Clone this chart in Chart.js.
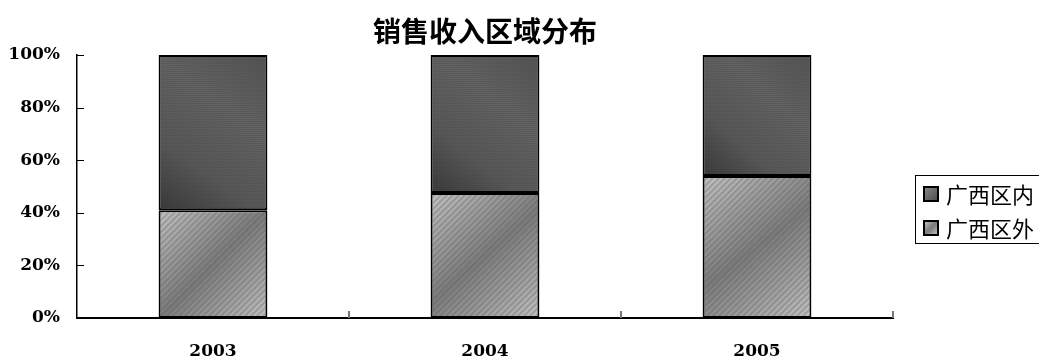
<!DOCTYPE html>
<html>
<head>
<meta charset="utf-8">
<script src="https://cdn.jsdelivr.net/npm/chart.js@4"></script>
<style>
html,body{margin:0;padding:0;background:#fff;}
#wrap{position:relative;width:1039px;height:360px;}
</style>
</head>
<body>
<div id="wrap"><canvas id="c" width="1039" height="360"></canvas></div>
<script>
const title = '销售收入区域分布';
const categories = ['2003', '2004', '2005'];
const seriesNames = ['广西区内', '广西区外'];
const insideValues = [59, 52.5, 46];
const outsideValues = [41, 47.5, 54];
const yTicks = [0, 20, 40, 60, 80, 100];

const LATIN = "'DejaVu Serif', serif";
const CJK = "'Noto Sans CJK SC', sans-serif";
const BAR_FRACTION = 0.4;

function barBox(chart, dsIndex, i) {
  const xs = chart.scales.x, ys = chart.scales.y;
  if (!xs || !ys || !chart.chartArea) return null;
  const cw = (chart.chartArea.right - chart.chartArea.left) / categories.length;
  const cx = xs.getPixelForValue(i);
  const w = cw * BAR_FRACTION;
  let base = 0, val;
  if (dsIndex === 0) { val = outsideValues[i]; }
  else { base = outsideValues[i]; val = insideValues[i]; }
  const y0 = ys.getPixelForValue(base + val), y1 = ys.getPixelForValue(base);
  return {left: Math.round(cx - w / 2), top: Math.round(y0), w: Math.max(2, Math.round(w)), h: Math.max(2, Math.round(y1 - y0))};
}

function paintLight(ctx, w, h) {
  const g = ctx.createLinearGradient(0, 0, w, h);
  g.addColorStop(0, '#c4c4c4');
  g.addColorStop(0.5, '#7c7c7c');
  g.addColorStop(1, '#c4c4c4');
  ctx.fillStyle = g;
  ctx.fillRect(0, 0, w, h);
  ctx.strokeStyle = 'rgba(90,90,90,0.3)';
  ctx.lineWidth = 2;
  for (let k = -h; k < w + h; k += 6) {
    ctx.beginPath();
    ctx.moveTo(k, h);
    ctx.lineTo(k + h, 0);
    ctx.stroke();
  }
}
function paintDark(ctx, w, h) {
  const g = ctx.createLinearGradient(w, 0, 0, h);
  g.addColorStop(0, '#545454');
  g.addColorStop(0.35, '#626262');
  g.addColorStop(0.7, '#585858');
  g.addColorStop(1, '#3a3a3a');
  ctx.fillStyle = g;
  ctx.fillRect(0, 0, w, h);
  ctx.fillStyle = 'rgba(30,30,30,0.2)';
  for (let y = 0; y < h; y += 2) {
    for (let x = (y / 2) % 2; x < w; x += 2) {
      ctx.fillRect(x, y, 1, 1);
    }
  }
}

const cache = {};
function makeFill(context, dsIndex) {
  const chart = context.chart;
  const i = context.dataIndex;
  const fallback = dsIndex === 0 ? '#9a9a9a' : '#505050';
  if (i === undefined) return fallback;
  const b = barBox(chart, dsIndex, i);
  if (!b) return fallback;
  const key = dsIndex + '_' + i + '_' + b.left + '_' + b.top + '_' + b.w + '_' + b.h;
  if (cache[key]) return cache[key];
  const off = document.createElement('canvas');
  off.width = b.w; off.height = b.h;
  const octx = off.getContext('2d');
  if (dsIndex === 0) paintLight(octx, b.w, b.h); else paintDark(octx, b.w, b.h);
  const pat = chart.ctx.createPattern(off, 'no-repeat');
  pat.setTransform(new DOMMatrix().translate(b.left, b.top));
  cache[key] = pat;
  return pat;
}

const innerTicks = {
  id: 'innerTicks',
  afterDatasetsDraw(chart) {
    const ctx = chart.ctx, ys = chart.scales.y, a = chart.chartArea;
    ctx.save();
    ctx.strokeStyle = '#000';
    ctx.lineWidth = 1;
    yTicks.forEach(v => {
      const y = Math.round(ys.getPixelForValue(v)) + 0.5;
      ctx.beginPath(); ctx.moveTo(a.left, y); ctx.lineTo(a.left + 7, y); ctx.stroke();
    });
    ctx.strokeStyle = '#777';
    ctx.lineWidth = 2;
    for (let k = 1; k <= categories.length; k++) {
      const x = Math.round(a.left + (a.right - a.left) * k / categories.length);
      ctx.beginPath(); ctx.moveTo(x, a.bottom); ctx.lineTo(x, a.bottom - 7); ctx.stroke();
    }
    ctx.restore();
  }
};

const titleAndLegend = {
  id: 'titleAndLegend',
  afterDraw(chart) {
    const ctx = chart.ctx, a = chart.chartArea;
    ctx.save();
    ctx.fillStyle = '#000';
    ctx.font = 'bold 28px ' + CJK;
    ctx.textAlign = 'center';
    ctx.textBaseline = 'middle';
    ctx.fillText(title, (a.left + a.right) / 2, 31);

    const left = 915, top = 175, w = 130, h = 68;
    ctx.strokeStyle = '#000';
    ctx.lineWidth = 1;
    ctx.strokeRect(left + 0.5, top + 0.5, w, h);
    ctx.font = '22px ' + CJK;
    ctx.textAlign = 'left';
    seriesNames.forEach((name, k) => {
      const cy = top + 19 + k * 34;
      const mx = 924, my = cy - 7, ms = 14;
      const g = ctx.createLinearGradient(mx, my, mx + ms, my + ms);
      if (k === 0) { g.addColorStop(0, '#8a8a8a'); g.addColorStop(1, '#4a4a4a'); }
      else { g.addColorStop(0, '#c8c8c8'); g.addColorStop(0.5, '#7a7a7a'); g.addColorStop(1, '#c8c8c8'); }
      ctx.fillStyle = g;
      ctx.fillRect(mx, my, ms, ms);
      ctx.lineWidth = 2;
      ctx.strokeStyle = '#000';
      ctx.strokeRect(mx, my, ms, ms);
      ctx.fillStyle = '#000';
      ctx.fillText(name, 946, cy + 1);
    });
    ctx.restore();
  }
};

new Chart(document.getElementById('c'), {
  type: 'bar',
  data: {
    labels: categories,
    datasets: [
      {label: seriesNames[1], data: outsideValues, backgroundColor: ctx => makeFill(ctx, 0), borderColor: '#000', borderWidth: 2, borderSkipped: false},
      {label: seriesNames[0], data: insideValues, backgroundColor: ctx => makeFill(ctx, 1), borderColor: '#000', borderWidth: 2, borderSkipped: false}
    ]
  },
  plugins: [innerTicks, titleAndLegend],
  options: {
    responsive: false,
    animation: false,
    devicePixelRatio: 1,
    layout: {padding: {left: 8, right: 146, top: 55, bottom: 0}},
    datasets: {bar: {barPercentage: BAR_FRACTION, categoryPercentage: 1}},
    plugins: {
      legend: {display: false},
      tooltip: {enabled: false},
      title: {display: false}
    },
    scales: {
      x: {
        stacked: true,
        grid: {display: false, drawTicks: false},
        border: {display: true, color: '#000', width: 2},
        afterFit: s => { s.height = 42; },
        ticks: {color: '#000', padding: 23, font: {family: LATIN, size: 17, weight: 'bold'}}
      },
      y: {
        stacked: true, min: 0, max: 100,
        afterBuildTicks: s => { s.ticks = yTicks.map(v => ({value: v})); },
        afterFit: s => { s.width = 69; },
        grid: {display: false, drawTicks: false},
        border: {display: true, color: '#000', width: 1.5},
        ticks: {color: '#000', padding: 17, font: {family: LATIN, size: 17, weight: 'bold'}, callback: v => v + '%'}
      }
    }
  }
});
</script>
</body>
</html>
